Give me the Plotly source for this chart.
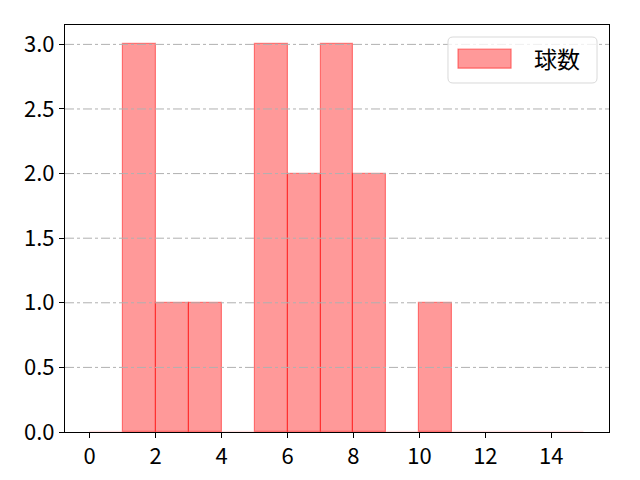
from plotly import graph_objects as go

# istogramma: bordi dei bin e conteggi
bin_left = list(range(0, 15))
counts = [0, 3, 1, 1, 0, 3, 2, 3, 2, 0, 1, 0, 0, 0, 0]
series_name = "球数"
x_ticks = [0, 2, 4, 6, 8, 10, 12, 14]
y_ticks = [0.0, 0.5, 1.0, 1.5, 2.0, 2.5, 3.0]

centers = [b + 0.5 for b in bin_left]
bar_fill = "rgba(255,0,0,0.4)"
bar_edge = "rgba(255,0,0,0.45)"
# i bin vuoti lasciano solo una traccia chiara sul fondo
edges = [bar_edge if c > 0 else "rgba(255,0,0,0.12)" for c in counts]

fig = go.Figure()
fig.add_traces(
    go.Bar(
        x=centers,
        y=counts,
        width=1,
        name=series_name,
        marker_color=bar_fill,
        marker_line_color=edges,
        marker_line_width=1.2,
        showlegend=False,
    )
)

# griglia sopra le barre (come matplotlib)
for yv in y_ticks[1:]:
    fig.add_shape(
        type="line", xref="paper", yref="y",
        x0=0, x1=1, y0=yv, y1=yv,
        line=dict(color="#b0b0b0", width=1, dash="dashdot"),
        layer="above",
    )

# legenda disegnata a mano
x0, x1, y0, y1 = 0.704, 0.978, 0.8575, 0.9705
rx, ry = 5 / 544, 5 / 407
box = (
    f"M {x0+rx},{y0} L {x1-rx},{y0} Q {x1},{y0} {x1},{y0+ry} "
    f"L {x1},{y1-ry} Q {x1},{y1} {x1-rx},{y1} "
    f"L {x0+rx},{y1} Q {x0},{y1} {x0},{y1-ry} "
    f"L {x0},{y0+ry} Q {x0},{y0} {x0+rx},{y0} Z"
)
fig.add_shape(
    type="path", xref="paper", yref="paper", path=box,
    line=dict(color="#d9d9d9", width=1),
    fillcolor="rgba(255,255,255,0.8)", layer="above",
)
fig.add_shape(
    type="rect", xref="paper", yref="paper",
    x0=0.7224, x1=0.820, y0=0.894, y1=0.941,
    fillcolor=bar_fill, line=dict(color=bar_edge, width=1.2),
    layer="above",
)
fig.add_annotation(
    xref="paper", yref="paper", x=0.905, y=0.919,
    text=series_name, showarrow=False,
    xanchor="center", yanchor="middle",
    font=dict(size=23, color="black"),
)

fig.update_layout(
    width=632,
    height=472,
    margin=dict(l=57, r=31, t=17, b=48),
    paper_bgcolor="white",
    plot_bgcolor="white",
    font=dict(family="Noto Sans CJK JP", size=22, color="black"),
    bargap=0,
    showlegend=False,
    xaxis=dict(
        range=[-0.75, 15.75],
        tickvals=x_ticks,
        ticks="outside", ticklen=5, tickcolor="black",
        showline=True, linecolor="black", linewidth=1, mirror=True,
        showgrid=False, zeroline=False, automargin=False,
    ),
    yaxis=dict(
        range=[0, 3.15],
        tickvals=y_ticks,
        tickformat=".1f",
        ticks="outside", ticklen=5, tickcolor="black",
        showline=True, linecolor="black", linewidth=1, mirror=True,
        showgrid=False, zeroline=False, automargin=False,
    ),
)

fig.write_html("out.html")
